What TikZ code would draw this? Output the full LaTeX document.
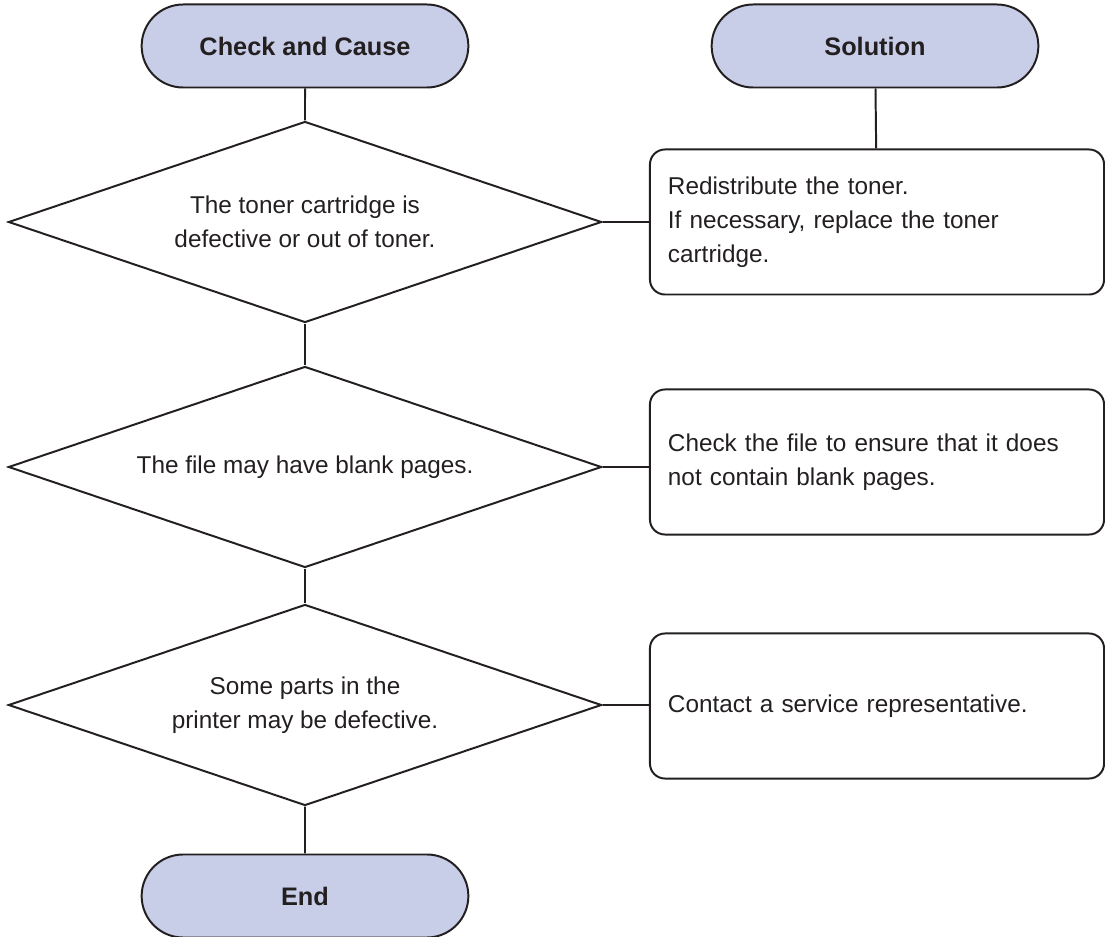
\documentclass[tikz,border=0pt]{standalone}
\usepackage{fontspec}
\setmainfont{Liberation Sans}
\usetikzlibrary{shapes.geometric, shapes.misc}
\definecolor{pillfill}{RGB}{201,206,232}
\definecolor{ink}{RGB}{35,31,32}

\begin{document}
\begin{tikzpicture}[x=0.025cm, y=-0.025cm, line width=1.4pt, color=ink,
    pill/.style={draw, rounded rectangle, fill=pillfill, minimum width=8.4cm, minimum height=2.075cm,
        font=\fontsize{18}{22}\selectfont\bfseries},
    check/.style={draw, diamond, aspect=2.95, minimum width=14.825cm, minimum height=5.025cm, inner sep=0pt,
        align=center, font=\fontsize{17.3}{24}\selectfont},
    fix/.style={draw, rectangle, rounded corners=0.375cm, minimum width=11.35cm, minimum height=3.625cm,
        text width=10.45cm, inner xsep=0.45cm, align=left, font=\fontsize{17.3}{24}\selectfont}]
    \useasboundingbox (0,0) rectangle (1105,937);

    % left column: checks
    \node[pill] (cause) at (305,46) {Check and Cause};
    \node[check] (toner) at (305,222) {The toner cartridge is\\defective or out of toner.};
    \node[check] (blank) at (305,467) {The file may have blank pages.};
    \node[check] (parts) at (305,705) {Some parts in the\\printer may be defective.};
    \node[pill] (end) at (305,896) {End};

    % right column: solutions
    \node[pill] (solution) at (875,46) {Solution};
    \node[fix] (redist) at (877,222) {Redistribute the toner.\\If necessary, replace the toner\\cartridge.};
    \node[fix] (checkfile) at (877,462) {Check the file to ensure that it does\\not contain blank pages.};
    \node[fix] (service) at (877,706) {Contact a service representative.};

    \draw (cause) -- (toner);
    \draw (toner) -- (blank);
    \draw (blank) -- (parts);
    \draw (parts) -- (end);
    \draw (solution) -- (redist);
    \draw (toner.east) -- (toner.east -| redist.west);
    \draw (blank.east) -- (blank.east -| checkfile.west);
    \draw (parts.east) -- (parts.east -| service.west);
\end{tikzpicture}
\end{document}
